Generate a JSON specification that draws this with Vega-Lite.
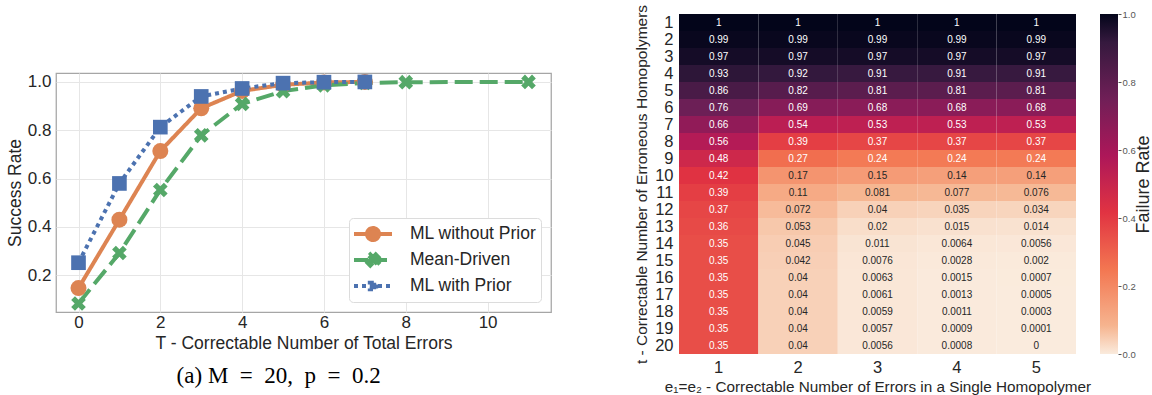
{
  "$schema": "https://vega.github.io/schema/vega-lite/v6.json",
  "background": "#ffffff",
  "padding": {"left": 5, "top": 4, "right": 0, "bottom": 0},
  "config": {
    "font": "Liberation Sans",
    "axis": {"labelColor": "#262626", "titleColor": "#262626", "titleFontWeight": "normal", "labelFont": "Liberation Sans", "titleFont": "Liberation Sans"}
  },
  "datasets": {
    "lines": [
      {"series": "ML without Prior", "T": 0, "rate": 0.147},
      {"series": "ML without Prior", "T": 1, "rate": 0.43},
      {"series": "ML without Prior", "T": 2, "rate": 0.714},
      {"series": "ML without Prior", "T": 3, "rate": 0.891},
      {"series": "ML without Prior", "T": 4, "rate": 0.963},
      {"series": "ML without Prior", "T": 5, "rate": 0.988},
      {"series": "ML without Prior", "T": 6, "rate": 0.998},
      {"series": "ML without Prior", "T": 7, "rate": 1.0},
      {"series": "Mean-Driven", "T": 0, "rate": 0.083},
      {"series": "Mean-Driven", "T": 1, "rate": 0.292},
      {"series": "Mean-Driven", "T": 2, "rate": 0.553},
      {"series": "Mean-Driven", "T": 3, "rate": 0.779},
      {"series": "Mean-Driven", "T": 4, "rate": 0.909},
      {"series": "Mean-Driven", "T": 5, "rate": 0.962},
      {"series": "Mean-Driven", "T": 6, "rate": 0.986},
      {"series": "Mean-Driven", "T": 7, "rate": 0.996},
      {"series": "Mean-Driven", "T": 8, "rate": 0.999},
      {"series": "Mean-Driven", "T": 11, "rate": 1.0},
      {"series": "ML with Prior", "T": 0, "rate": 0.252},
      {"series": "ML with Prior", "T": 1, "rate": 0.58},
      {"series": "ML with Prior", "T": 2, "rate": 0.813},
      {"series": "ML with Prior", "T": 3, "rate": 0.94},
      {"series": "ML with Prior", "T": 4, "rate": 0.973},
      {"series": "ML with Prior", "T": 5, "rate": 0.995},
      {"series": "ML with Prior", "T": 6, "rate": 0.999},
      {"series": "ML with Prior", "T": 7, "rate": 1.0}
    ],
    "heat": [
      {"t": 1, "e": 1, "v": 1}, {"t": 1, "e": 2, "v": 1}, {"t": 1, "e": 3, "v": 1}, {"t": 1, "e": 4, "v": 1}, {"t": 1, "e": 5, "v": 1},
      {"t": 2, "e": 1, "v": 0.99}, {"t": 2, "e": 2, "v": 0.99}, {"t": 2, "e": 3, "v": 0.99}, {"t": 2, "e": 4, "v": 0.99}, {"t": 2, "e": 5, "v": 0.99},
      {"t": 3, "e": 1, "v": 0.97}, {"t": 3, "e": 2, "v": 0.97}, {"t": 3, "e": 3, "v": 0.97}, {"t": 3, "e": 4, "v": 0.97}, {"t": 3, "e": 5, "v": 0.97},
      {"t": 4, "e": 1, "v": 0.93}, {"t": 4, "e": 2, "v": 0.92}, {"t": 4, "e": 3, "v": 0.91}, {"t": 4, "e": 4, "v": 0.91}, {"t": 4, "e": 5, "v": 0.91},
      {"t": 5, "e": 1, "v": 0.86}, {"t": 5, "e": 2, "v": 0.82}, {"t": 5, "e": 3, "v": 0.81}, {"t": 5, "e": 4, "v": 0.81}, {"t": 5, "e": 5, "v": 0.81},
      {"t": 6, "e": 1, "v": 0.76}, {"t": 6, "e": 2, "v": 0.69}, {"t": 6, "e": 3, "v": 0.68}, {"t": 6, "e": 4, "v": 0.68}, {"t": 6, "e": 5, "v": 0.68},
      {"t": 7, "e": 1, "v": 0.66}, {"t": 7, "e": 2, "v": 0.54}, {"t": 7, "e": 3, "v": 0.53}, {"t": 7, "e": 4, "v": 0.53}, {"t": 7, "e": 5, "v": 0.53},
      {"t": 8, "e": 1, "v": 0.56}, {"t": 8, "e": 2, "v": 0.39}, {"t": 8, "e": 3, "v": 0.37}, {"t": 8, "e": 4, "v": 0.37}, {"t": 8, "e": 5, "v": 0.37},
      {"t": 9, "e": 1, "v": 0.48}, {"t": 9, "e": 2, "v": 0.27}, {"t": 9, "e": 3, "v": 0.24}, {"t": 9, "e": 4, "v": 0.24}, {"t": 9, "e": 5, "v": 0.24},
      {"t": 10, "e": 1, "v": 0.42}, {"t": 10, "e": 2, "v": 0.17}, {"t": 10, "e": 3, "v": 0.15}, {"t": 10, "e": 4, "v": 0.14}, {"t": 10, "e": 5, "v": 0.14},
      {"t": 11, "e": 1, "v": 0.39}, {"t": 11, "e": 2, "v": 0.11}, {"t": 11, "e": 3, "v": 0.081}, {"t": 11, "e": 4, "v": 0.077}, {"t": 11, "e": 5, "v": 0.076},
      {"t": 12, "e": 1, "v": 0.37}, {"t": 12, "e": 2, "v": 0.072}, {"t": 12, "e": 3, "v": 0.04}, {"t": 12, "e": 4, "v": 0.035}, {"t": 12, "e": 5, "v": 0.034},
      {"t": 13, "e": 1, "v": 0.36}, {"t": 13, "e": 2, "v": 0.053}, {"t": 13, "e": 3, "v": 0.02}, {"t": 13, "e": 4, "v": 0.015}, {"t": 13, "e": 5, "v": 0.014},
      {"t": 14, "e": 1, "v": 0.35}, {"t": 14, "e": 2, "v": 0.045}, {"t": 14, "e": 3, "v": 0.011}, {"t": 14, "e": 4, "v": 0.0064}, {"t": 14, "e": 5, "v": 0.0056},
      {"t": 15, "e": 1, "v": 0.35}, {"t": 15, "e": 2, "v": 0.042}, {"t": 15, "e": 3, "v": 0.0076}, {"t": 15, "e": 4, "v": 0.0028}, {"t": 15, "e": 5, "v": 0.002},
      {"t": 16, "e": 1, "v": 0.35}, {"t": 16, "e": 2, "v": 0.04}, {"t": 16, "e": 3, "v": 0.0063}, {"t": 16, "e": 4, "v": 0.0015}, {"t": 16, "e": 5, "v": 0.0007},
      {"t": 17, "e": 1, "v": 0.35}, {"t": 17, "e": 2, "v": 0.04}, {"t": 17, "e": 3, "v": 0.0061}, {"t": 17, "e": 4, "v": 0.0013}, {"t": 17, "e": 5, "v": 0.0005},
      {"t": 18, "e": 1, "v": 0.35}, {"t": 18, "e": 2, "v": 0.04}, {"t": 18, "e": 3, "v": 0.0059}, {"t": 18, "e": 4, "v": 0.0011}, {"t": 18, "e": 5, "v": 0.0003},
      {"t": 19, "e": 1, "v": 0.35}, {"t": 19, "e": 2, "v": 0.04}, {"t": 19, "e": 3, "v": 0.0057}, {"t": 19, "e": 4, "v": 0.0009}, {"t": 19, "e": 5, "v": 0.0001},
      {"t": 20, "e": 1, "v": 0.35}, {"t": 20, "e": 2, "v": 0.04}, {"t": 20, "e": 3, "v": 0.0056}, {"t": 20, "e": 4, "v": 0.0008}, {"t": 20, "e": 5, "v": 0}
    ]
  },
  "spacing": 82,
  "resolve": {"scale": {"color": "independent"}, "legend": {"color": "independent"}},
  "hconcat": [
    {
      "spacing": 57,
      "resolve": {"scale": {"color": "independent"}, "legend": {"color": "independent"}},
      "vconcat": [
        {"width": 495, "height": 1, "data": {"values": []}, "mark": "point", "view": {"stroke": null}},
        {
          "width": 495,
          "height": 239,
          "data": {"name": "lines"},
          "view": {"stroke": "#a6a6a6", "strokeWidth": 1.25},
          "title": {"text": "(a) M\u2002=\u200220,\u2002p\u2002=\u20020.2", "orient": "bottom", "anchor": "middle", "frame": "bounds", "font": "Liberation Serif", "fontSize": 23, "fontWeight": "normal", "color": "#000000", "offset": 13},
          "encoding": {
            "x": {"field": "T", "type": "quantitative", "scale": {"domain": [-0.55, 11.55], "nice": false, "zero": false},
              "axis": {"values": [0, 2, 4, 6, 8, 10], "title": "T - Correctable Number of Total Errors", "grid": true, "gridColor": "#e6e6e6", "domain": false, "ticks": false, "tickSize": 0, "labelFontSize": 17, "labelPadding": 2, "titleFontSize": 17.5, "titlePadding": 4}},
            "y": {"field": "rate", "type": "quantitative", "scale": {"domain": [0.048, 1.037], "nice": false, "zero": false},
              "axis": {"values": [0.2, 0.4, 0.6, 0.8, 1.0], "format": ".1f", "title": "Success Rate", "grid": true, "gridColor": "#e6e6e6", "domain": false, "ticks": false, "tickSize": 0, "labelFontSize": 17, "labelPadding": 5, "titleFontSize": 17.5, "titlePadding": 3}},
            "color": {"field": "series", "type": "nominal",
              "scale": {"domain": ["ML without Prior", "Mean-Driven", "ML with Prior"], "range": ["#dd8452", "#55a868", "#4c72b0"]},
              "legend": {
                "title": null, "orient": "bottom-right", "offset": 10, "padding": 4,
                "fillColor": "#ffffff", "strokeColor": "#dcdcdc", "cornerRadius": 4,
                "labelFontSize": 17.5, "labelColor": "#262626", "labelFont": "Liberation Sans", "labelOffset": 25, "labelLimit": 0,
                "symbolSize": 400, "symbolOffset": 8, "symbolStrokeWidth": 4, "rowPadding": -2,
                "encode": {
                  "symbols": {
                    "update": {
                      "shape": {"signal": "datum.value === 'ML without Prior' ? 'M-1.9,0H1.9M0.6,0A0.6,0.6,0,1,1,-0.6,0A0.6,0.6,0,1,1,0.6,0Z' : datum.value === 'Mean-Driven' ? 'M-1.9,0H1.9M0.27,-0.56L0.56,-0.27L0.29,0L0.56,0.27L0.27,0.56L0,0.29L-0.27,0.56L-0.56,0.27L-0.29,0L-0.56,-0.27L-0.27,-0.56L0,-0.29Z' : 'M-1.9,0H1.9M-0.32,-0.32H0.32V0.32H-0.32Z'"},
                      "strokeDash": {"signal": "datum.value === 'Mean-Driven' ? [14, 5] : datum.value === 'ML with Prior' ? [4, 4] : [1, 0]"},
                      "fill": {"scale": "color", "field": "value"},
                      "stroke": {"scale": "color", "field": "value"},
                      "opacity": {"value": 1}
                    }
                  }
                }
              }
            }
          },
          "layer": [
            {
              "mark": {"type": "line", "strokeWidth": 4},
              "encoding": {
                "strokeDash": {"field": "series", "type": "nominal", "scale": {"domain": ["ML without Prior", "Mean-Driven", "ML with Prior"], "range": [[1, 0], [18, 7], [4, 4]]}, "legend": null}
              }
            },
            {
              "mark": {"type": "point", "filled": true, "opacity": 1},
              "encoding": {
                "shape": {"field": "series", "type": "nominal", "scale": {"domain": ["ML without Prior", "Mean-Driven", "ML with Prior"], "range": ["circle", "M0.460,-0.955L0.955,-0.460L0.495,0L0.955,0.460L0.460,0.955L0,0.495L-0.460,0.955L-0.955,0.460L-0.495,0L-0.955,-0.460L-0.460,-0.955L0,-0.495Z", "square"]}, "legend": null},
                "size": {"field": "series", "type": "nominal", "scale": {"domain": ["ML without Prior", "Mean-Driven", "ML with Prior"], "range": [256, 215, 110]}, "legend": null}
              }
            }
          ]
        }
      ]
    },
    {
      "spacing": 9,
      "hconcat": [
        {
          "width": 397,
          "height": 340,
          "data": {"name": "heat"},
          "view": {"stroke": null},
          "encoding": {
            "x": {"field": "e", "type": "ordinal", "axis": {"title": "e₁=e₂ - Correctable Number of Errors in a Single Homopolymer", "labelAngle": 0, "domain": false, "ticks": false, "tickSize": 0, "labelFontSize": 16.5, "labelPadding": 5, "titleFontSize": 15.3, "titlePadding": 4}},
            "y": {"field": "t", "type": "ordinal", "axis": {"title": "t - Correctable Number of Erroneous Homopolymers", "domain": false, "ticks": false, "tickSize": 0, "labelFontSize": 16.5, "labelPadding": 6, "titleFontSize": 15.5, "titlePadding": 5}}
          },
          "layer": [
            {
              "mark": {"type": "rect"},
              "encoding": {
                "color": {"field": "v", "type": "quantitative", "legend": null,
                  "scale": {"domain": [0, 0.0833, 0.25, 0.4167, 0.5833, 0.75, 0.9167, 1], "range": ["#faebdd", "#f6b48f", "#f37651", "#e13342", "#ad1759", "#701f57", "#35193e", "#03051a"], "interpolate": "rgb"}}
              }
            },
            {
              "mark": {"type": "text", "fontSize": 10},
              "encoding": {
                "text": {"field": "v", "type": "quantitative", "format": ".2~g"},
                "color": {"condition": {"test": "datum.v >= 0.2", "value": "#ffffff"}, "value": "#262626"}
              }
            }
          ]
        },
        {
          "width": 18,
          "height": 340,
          "data": {"values": [{"a": 0, "b": 1, "lo": 0, "hi": 1}]},
          "view": {"stroke": null},
          "mark": {"type": "rect", "color": {"gradient": "linear", "x1": 0, "y1": 1, "x2": 0, "y2": 0, "stops": [
            {"offset": 0, "color": "#faebdd"}, {"offset": 0.0833, "color": "#f6b48f"}, {"offset": 0.25, "color": "#f37651"}, {"offset": 0.4167, "color": "#e13342"}, {"offset": 0.5833, "color": "#ad1759"}, {"offset": 0.75, "color": "#701f57"}, {"offset": 0.9167, "color": "#35193e"}, {"offset": 1, "color": "#03051a"}]}},
          "encoding": {
            "x": {"field": "a", "type": "quantitative", "scale": {"domain": [0, 1], "nice": false}, "axis": null},
            "x2": {"field": "b"},
            "y": {"field": "lo", "type": "quantitative", "scale": {"domain": [0, 1], "nice": false, "zero": false},
              "axis": {"orient": "right", "values": [0, 0.2, 0.4, 0.6, 0.8, 1.0], "format": ".1f", "grid": false, "domain": false, "ticks": true, "tickSize": 3, "tickColor": "#555555", "labelFontSize": 9.5, "labelColor": "#555555", "labelPadding": 1, "title": "Failure Rate", "titleFontSize": 18, "titleAngle": 270, "titleBaseline": "top", "titlePadding": -1}},
            "y2": {"field": "hi"}
          }
        }
      ]
    }
  ]
}
